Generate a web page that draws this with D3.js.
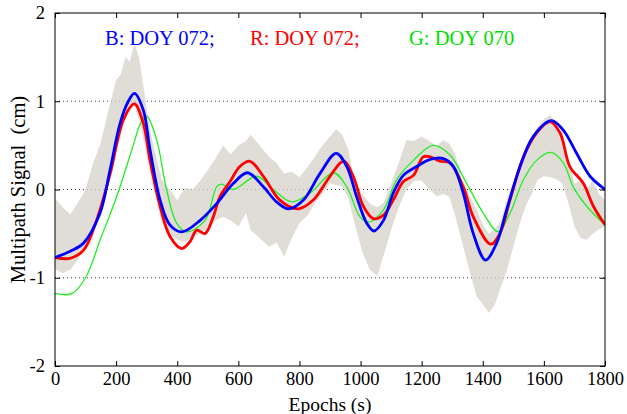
<!DOCTYPE html>
<html>
<head>
<meta charset="utf-8">
<script src="https://cdn.jsdelivr.net/npm/d3@7"></script>
</head>
<body style="margin:0">
<svg id="chart" width="627" height="414" font-family="Liberation Serif"></svg>
<script>
// values (epoch in s, signal in cm)
let blue_t = [0, 50, 93, 147, 180, 213, 240, 260, 289, 311, 344, 376, 415, 475, 529, 584, 630, 682, 725, 764, 813, 867, 920, 955, 987, 1020, 1044, 1075, 1107, 1140, 1184, 1227, 1271, 1304, 1336, 1369, 1409, 1445, 1478, 1522, 1565, 1625, 1664, 1707, 1751, 1800];
let blue_v = [-0.77, -0.70, -0.61, -0.27, 0.22, 0.75, 1.00, 1.09, 0.90, 0.45, -0.12, -0.40, -0.48, -0.35, -0.16, 0.07, 0.19, 0.03, -0.14, -0.22, -0.12, 0.18, 0.41, 0.26, -0.08, -0.38, -0.47, -0.35, -0.04, 0.16, 0.26, 0.34, 0.35, 0.26, -0.04, -0.50, -0.80, -0.61, -0.23, 0.26, 0.60, 0.78, 0.67, 0.41, 0.15, 0.0];

let red_t = [0, 49, 93, 136, 180, 224, 260, 289, 311, 344, 376, 415, 442, 464, 491, 518, 540, 573, 605, 638, 682, 736, 796, 845, 900, 944, 976, 1009, 1042, 1075, 1107, 1140, 1173, 1205, 1227, 1260, 1293, 1336, 1369, 1426, 1456, 1489, 1533, 1576, 1620, 1653, 1685, 1729, 1762, 1800];
let red_v = [-0.77, -0.78, -0.69, -0.35, 0.17, 0.79, 0.97, 0.75, 0.33, -0.19, -0.53, -0.67, -0.59, -0.46, -0.50, -0.31, -0.08, 0.09, 0.26, 0.32, 0.15, -0.12, -0.22, -0.12, 0.15, 0.32, 0.15, -0.19, -0.33, -0.29, -0.12, 0.09, 0.16, 0.37, 0.37, 0.32, 0.30, 0.03, -0.31, -0.62, -0.50, -0.12, 0.37, 0.64, 0.77, 0.64, 0.26, 0.07, -0.19, -0.40];

let green_t = [0, 55, 100, 150, 202, 256, 280, 300, 333, 365, 398, 431, 491, 529, 545, 584, 660, 714, 774, 835, 911, 955, 998, 1025, 1075, 1118, 1173, 1238, 1293, 1347, 1402, 1451, 1489, 1533, 1576, 1622, 1664, 1696, 1740, 1800];
let green_v = [-1.18, -1.18, -1.0, -0.55, -0.08, 0.50, 0.75, 0.83, 0.56, 0.0, -0.38, -0.48, -0.35, 0.03, 0.06, 0.0, 0.15, 0.0, -0.14, -0.04, 0.19, 0.03, -0.31, -0.37, -0.23, 0.11, 0.33, 0.50, 0.39, 0.07, -0.27, -0.48, -0.27, 0.11, 0.33, 0.42, 0.30, 0.03, -0.19, -0.40];

// raw signal, upper and lower extent of the grey band
let raw_t  = [0, 25, 50, 75, 100, 125, 150, 175, 200, 215, 230, 245, 260, 275, 290, 305, 320, 350, 375, 400, 425, 450, 475, 500, 525, 550, 575, 600, 625, 640, 670, 700, 725, 750, 775, 800, 825, 850, 875, 900, 920, 940, 960, 980, 1005, 1030, 1055, 1075, 1100, 1125, 1150, 1175, 1200, 1225, 1250, 1270, 1290, 1310, 1330, 1355, 1380, 1400, 1420, 1440, 1460, 1480, 1500, 1520, 1540, 1560, 1580, 1600, 1620, 1640, 1660, 1680, 1700, 1720, 1740, 1760, 1780, 1800];
let raw_hi = [-0.10, -0.20, -0.28, -0.15, 0.0, 0.30, 0.53, 0.90, 1.24, 1.30, 1.50, 1.45, 1.66, 1.50, 1.16, 0.80, 0.53, 0.10, 0.0, -0.12, 0.02, 0.0, 0.10, 0.22, 0.35, 0.50, 0.40, 0.50, 0.55, 0.62, 0.50, 0.37, 0.30, 0.18, 0.20, 0.14, 0.25, 0.37, 0.50, 0.60, 0.68, 0.62, 0.45, 0.10, -0.05, -0.16, -0.20, -0.15, 0.07, 0.30, 0.56, 0.55, 0.60, 0.55, 0.49, 0.56, 0.52, 0.40, 0.14, -0.05, -0.23, -0.40, -0.50, -0.45, -0.35, -0.10, 0.07, 0.25, 0.45, 0.60, 0.71, 0.80, 0.84, 0.75, 0.56, 0.35, 0.07, 0.10, 0.0, 0.10, -0.05, -0.12];
let raw_lo = [-0.90, -0.95, -0.91, -0.80, -0.61, -0.45, -0.31, 0.05, 0.45, 0.60, 0.82, 0.90, 0.94, 0.80, 0.56, 0.30, 0.03, -0.38, -0.50, -0.57, -0.60, -0.53, -0.50, -0.46, -0.35, -0.31, -0.35, -0.42, -0.27, -0.46, -0.55, -0.65, -0.60, -0.76, -0.55, -0.38, -0.30, -0.16, -0.05, 0.07, 0.05, 0.03, -0.10, -0.38, -0.70, -0.91, -0.98, -0.75, -0.46, -0.20, 0.0, 0.10, 0.10, 0.0, -0.08, -0.05, -0.08, -0.30, -0.57, -0.90, -1.21, -1.30, -1.40, -1.30, -1.10, -0.90, -0.65, -0.40, -0.19, -0.05, 0.11, 0.15, 0.14, 0.12, 0.07, -0.15, -0.42, -0.55, -0.57, -0.50, -0.45, -0.42];

let x_ticks = [0, 200, 400, 600, 800, 1000, 1200, 1400, 1600, 1800];
let y_ticks = [-2, -1, 0, 1, 2];
let grid_vals = [-1, 0, 1];

let legend_items = [
	{label: "B: DOY 072;", color: "#0000ff", x: 105},
	{label: "R: DOY 072;", color: "#ff0000", x: 250},
	{label: "G: DOY 070", color: "#00e000", x: 409}
];

function zip(ts, vs){
	return ts.map((t, i) => ({t: t, v: vs[i]}));
}

function style_labels(g){
	g.attr("font-family", null).attr("font-size", null);
	g.select(".domain").remove();
	g.selectAll("text")
		.attr("font-family", "Liberation Serif")
		.attr("font-size", 18.5)
		.attr("fill", "#000");
	g.selectAll("line").attr("stroke", "#000");
}

function draw_chart(){
	let svg = d3.select("#chart");
	let left = 55, right = 605, top = 13, bottom = 366;

	let x = d3.scaleLinear().domain([0, 1800]).range([left, right]);
	let y = d3.scaleLinear().domain([-2, 2]).range([bottom, top]);

	// dotted grid
	svg.append("g").selectAll("line")
		.data(grid_vals).enter().append("line")
		.attr("x1", left).attr("x2", right)
		.attr("y1", d => y(d)).attr("y2", d => y(d))
		.attr("stroke", "#444")
		.attr("stroke-width", 1)
		.attr("stroke-dasharray", "1,3");

	svg.append("clipPath").attr("id", "plot-clip")
		.append("rect").attr("x", left).attr("y", top)
		.attr("width", right - left).attr("height", bottom - top);

	let plot = svg.append("g").attr("clip-path", "url(#plot-clip)");

	// grey raw signal band
	let raw = raw_t.map((t, i) => ({t: t, hi: raw_hi[i], lo: raw_lo[i]}));
	plot.append("path")
		.datum(raw)
		.attr("fill", "#d6d2ca")
		.attr("fill-opacity", 0.75)
		.attr("d", d3.area()
			.x(d => x(d.t))
			.y0(d => y(d.lo))
			.y1(d => y(d.hi)));

	let line = d3.line()
		.x(d => x(d.t))
		.y(d => y(d.v))
		.curve(d3.curveCatmullRom.alpha(0.5));

	plot.append("path").datum(zip(green_t, green_v))
		.attr("fill", "none").attr("stroke", "#22ee22").attr("stroke-width", 1.3)
		.attr("d", line);
	plot.append("path").datum(zip(red_t, red_v))
		.attr("fill", "none").attr("stroke", "#ff0000").attr("stroke-width", 2.8)
		.attr("d", line);
	plot.append("path").datum(zip(blue_t, blue_v))
		.attr("fill", "none").attr("stroke", "#0000ff").attr("stroke-width", 2.8)
		.attr("d", line);

	// axes, ticks pointing inward on all four sides
	svg.append("g").attr("transform", `translate(0,${bottom})`)
		.call(d3.axisBottom(x).tickValues(x_ticks).tickSize(-5).tickPadding(6).tickFormat(d => String(d)))
		.call(style_labels);
	svg.append("g").attr("transform", `translate(0,${top})`)
		.call(d3.axisTop(x).tickValues(x_ticks).tickSize(-5).tickFormat(""))
		.call(style_labels);
	svg.append("g").attr("transform", `translate(${left},0)`)
		.call(d3.axisLeft(y).tickValues(y_ticks).tickSize(-5).tickPadding(10).tickFormat(d => String(d)))
		.call(style_labels);
	svg.append("g").attr("transform", `translate(${right},0)`)
		.call(d3.axisRight(y).tickValues(y_ticks).tickSize(-5).tickFormat(""))
		.call(style_labels);

	svg.append("rect")
		.attr("x", left).attr("y", top)
		.attr("width", right - left).attr("height", bottom - top)
		.attr("fill", "none").attr("stroke", "#000").attr("stroke-width", 1);

	// labels
	svg.append("text")
		.attr("x", (left + right) / 2).attr("y", 411)
		.attr("text-anchor", "middle")
		.attr("font-family", "Liberation Serif").attr("font-size", 19.5)
		.text("Epochs (s)");
	svg.append("text")
		.attr("transform", `translate(25,${(top + bottom) / 2}) rotate(-90)`)
		.attr("text-anchor", "middle")
		.attr("font-family", "Liberation Serif").attr("font-size", 20.5)
		.attr("xml:space", "preserve")
		.text("Multipath Signal  (cm)");

	svg.append("g").selectAll("text")
		.data(legend_items).enter().append("text")
		.attr("x", d => d.x).attr("y", 45)
		.attr("font-family", "Liberation Serif").attr("font-size", 20.5)
		.attr("fill", d => d.color)
		.text(d => d.label);
}

draw_chart();
</script>
</body>
</html>
